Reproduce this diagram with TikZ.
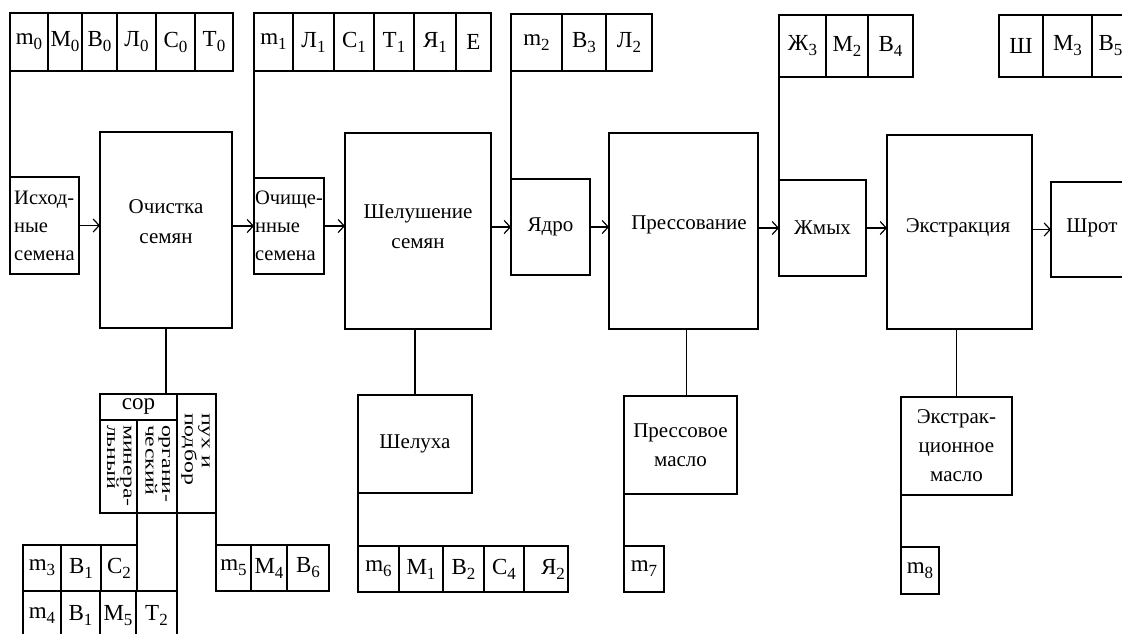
\documentclass[tikz,border=0pt]{standalone}
\usepackage{fontspec}
\setmainfont{Liberation Serif}
\usetikzlibrary{arrows.meta}
\newcommand{\sbs}[1]{\raisebox{-5pt}{\fontsize{17}{17}\selectfont #1}}
\newcommand{\bx}[7]{\node[#1, minimum width={(#4-#3)*1pt}, minimum height={(#6-#5)*1pt}] (#2) at ({(#3+#4)/2},{(#5+#6)/2}) {#7};}
\newcommand{\vlines}[2]{\scalebox{1.4}[1]{\begin{tabular}{@{}l@{}}#1\\#2\end{tabular}}}
\begin{document}
\begin{tikzpicture}[x=1pt,y=-1pt,
  every node/.style={inner sep=0pt, outer sep=0pt},
  cellbox/.style={draw, line width=1.3pt, font=\fontsize{23}{23}\selectfont},
  mainbox/.style={draw, line width=1.3pt, font=\fontsize{21}{29}\selectfont, align=center},
  leftbox/.style={draw, line width=1.3pt, font=\fontsize{20.5}{28}\selectfont, align=left},
  plainbox/.style={draw, line width=1.3pt},
  bigtext/.style={font=\fontsize{21}{30}\selectfont, align=center},
  vtext/.style={rotate=-90, anchor=west, align=left, font=\fontsize{17}{16}\selectfont},
  link/.style={line width=1.3pt},
  flow/.style={line width=1.3pt, -{Straight Barb[length=6pt,width=13pt,line width=1.2pt]}}
]
\useasboundingbox (0,0) rectangle (1122,633);
\fill[white] (0,0) rectangle (1122,633);

% top row 1
\bx{cellbox}{a1}{10}{48}{13}{71}{m\sbs{0}}
\bx{cellbox}{a2}{48}{82}{13}{71}{М\sbs{0}}
\bx{cellbox}{a3}{82}{117}{13}{71}{В\sbs{0}}
\bx{cellbox}{a4}{117}{156}{13}{71}{Л\sbs{0}}
\bx{cellbox}{a5}{156}{195}{13}{71}{С\sbs{0}}
\bx{cellbox}{a6}{195}{233}{13}{71}{Т\sbs{0}}
% top row 2
\bx{cellbox}{b1}{254}{293}{13}{71}{m\sbs{1}}
\bx{cellbox}{b2}{293}{334}{13}{71}{Л\sbs{1}}
\bx{cellbox}{b3}{334}{374}{13}{71}{С\sbs{1}}
\bx{cellbox}{b4}{374}{414}{13}{71}{Т\sbs{1}}
\bx{cellbox}{b5}{414}{456}{13}{71}{Я\sbs{1}}
\bx{cellbox}{b6}{456}{491}{13}{71}{Е}
% top row 3
\bx{cellbox}{c1}{511}{562}{14}{71}{m\sbs{2}}
\bx{cellbox}{c2}{562}{606}{14}{71}{В\sbs{3}}
\bx{cellbox}{c3}{606}{652}{14}{71}{Л\sbs{2}}
% top row 4
\bx{cellbox}{d1}{779}{826}{15}{77}{Ж\sbs{3}}
\bx{cellbox}{d2}{826}{868}{15}{77}{М\sbs{2}}
\bx{cellbox}{d3}{868}{913}{15}{77}{В\sbs{4}}
% top row 5
\bx{cellbox}{e1}{999}{1043}{15}{77}{Ш}
\bx{cellbox}{e2}{1043}{1092}{15}{77}{М\sbs{3}}
\bx{cellbox}{e3}{1092}{1145}{15}{77}{\hspace*{-16pt}В\sbs{5}}

% main chain
\bx{leftbox}{isk}{10}{79}{177}{274}{Исход-\\ные\\семена}
\bx{plainbox}{ochist}{100}{232}{132}{328}{}
\node[bigtext] (ochistT) at (166,222) {Очистка\\семян};
\bx{leftbox}{ochish}{254}{324}{178}{274}{Очище-\\нные\\семена}
\bx{plainbox}{shel}{345}{491}{133}{329}{}
\node[bigtext] (shelT) at (418,227) {Шелушение\\семян};
\bx{mainbox}{yadro}{511}{590}{179}{275}{Ядро}
\bx{plainbox}{press}{609}{758}{133}{329}{}
\node[bigtext] (pressT) at (689,225) {Прессование};
\bx{mainbox}{zhmyh}{779}{866}{180}{276}{Жмых}
\bx{plainbox}{extr}{887}{1032}{135}{329}{}
\node[bigtext] (extrT) at (958,228) {Экстракция};
\bx{plainbox}{shrot}{1051}{1160}{182}{277}{}
\node[bigtext] (shrotT) at (1092,228) {Шрот};

\draw[flow] (isk.east) -- (isk.east -| ochist.west);
\draw[flow] (ochist.east |- ochish.west) -- (ochish.west);
\draw[flow] (ochish.east) -- (ochish.east -| shel.west);
\draw[flow] (shel.east |- yadro.west) -- (yadro.west);
\draw[flow] (yadro.east) -- (yadro.east -| press.west);
\draw[flow] (press.east |- zhmyh.west) -- (zhmyh.west);
\draw[flow] (zhmyh.east) -- (zhmyh.east -| extr.west);
\draw[flow] (extr.east |- shrot.west) -- (shrot.west);

% links from top rows
\draw[link] (a1.south west) -- (isk.north west);
\draw[link] (b1.south west) -- (ochish.north west);
\draw[link] (c1.south west) -- (yadro.north west);
\draw[link] (d1.south west) -- (zhmyh.north west);

% sor group
\bx{cellbox}{sorh}{100}{177}{394}{420}{\raisebox{2pt}{сор}}
\bx{plainbox}{col1}{100}{137}{420}{513}{}
\bx{plainbox}{col2}{137}{177}{420}{513}{}
\bx{plainbox}{col3}{177}{216}{394}{513}{}
\node[vtext] (t1) at (118.5,425) {\vlines{минера-}{льный}};
\node[vtext] (t2) at (157,425) {\vlines{органи-}{ческий}};
\node[vtext] (t3) at (196.5,413) {\vlines{пух и}{подбор}};
\draw[link] (ochist.south) -- (ochist.south |- sorh.north);

% m3 row
\bx{cellbox}{f1}{23}{61}{545}{591}{m\sbs{3}}
\bx{cellbox}{f2}{61}{101}{545}{591}{В\sbs{1}}
\bx{cellbox}{f3}{101}{137}{545}{591}{С\sbs{2}}
% m4 row
\bx{cellbox}{g1}{23}{61}{591}{640}{m\sbs{4}}
\bx{cellbox}{g2}{61}{100}{591}{640}{В\sbs{1}}
\bx{cellbox}{g3}{100}{136}{591}{640}{М\sbs{5}}
\bx{cellbox}{g4}{136}{177}{591}{640}{Т\sbs{2}}
% m5 row
\bx{cellbox}{h1}{216}{251}{545}{591}{m\sbs{5}}
\bx{cellbox}{h2}{251}{287}{545}{591}{М\sbs{4}}
\bx{cellbox}{h3}{287}{329}{545}{591}{В\sbs{6}}
\draw[link] (col1.south east) -- (f3.north east);
\draw[link] (col2.south east) -- (g4.north east);
\draw[link] (col3.south east) -- (h1.north west);

% Шелуха
\bx{mainbox}{shelukha}{358}{472}{395}{493}{Шелуха}
\draw[link] (shelukha.north) -- (shelukha.north |- shel.south);
\bx{cellbox}{k1}{358}{399}{546}{592}{m\sbs{6}}
\bx{cellbox}{k2}{399}{443}{546}{592}{М\sbs{1}}
\bx{cellbox}{k3}{443}{484}{546}{592}{В\sbs{2}}
\bx{cellbox}{k4}{484}{524}{546}{592}{С\sbs{4}}
\bx{cellbox}{k5}{524}{568}{546}{592}{\hspace*{14pt}Я\sbs{2}}
\draw[link] (shelukha.south west) -- (k1.north west);

% Прессовое масло
\bx{mainbox}{pm}{624}{737}{396}{494}{Прессовое\\масло}
\draw[link] (pm.north) ++(6,0) coordinate (pmtop) -- (pmtop |- press.south);
\bx{cellbox}{m7}{624}{664}{546}{592}{m\sbs{7}}
\draw[link] (pm.south west) -- (m7.north west);

% Экстракционное масло
\bx{mainbox}{em}{901}{1012}{397}{495}{Экстрак-\\ционное\\масло}
\draw[link] (em.north) -- (em.north |- extr.south);
\bx{cellbox}{m8}{901}{939}{547}{594}{m\sbs{8}}
\draw[link] (em.south west) -- (m8.north west);
\end{tikzpicture}
\end{document}
